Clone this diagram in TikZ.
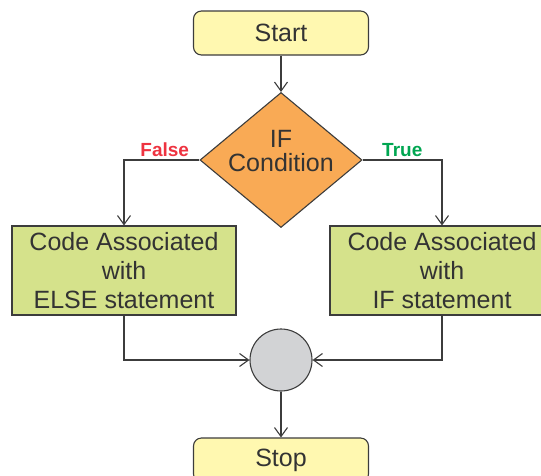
\documentclass[tikz,border=0pt]{standalone}
\usepackage{fontspec}
\setmainfont{Liberation Sans}
\usetikzlibrary{positioning,shapes.geometric,arrows.meta}

\definecolor{linegray}{HTML}{3C3C3C}
\definecolor{textgray}{HTML}{333333}
\definecolor{startfill}{HTML}{FFF8B0}
\definecolor{condfill}{HTML}{F9AA55}
\definecolor{codefill}{HTML}{D5E28B}
\definecolor{joinfill}{HTML}{D2D3D5}
\definecolor{falsered}{HTML}{EE3340}
\definecolor{truegreen}{HTML}{00A651}

\tikzset{
  startstop/.style={rectangle, rounded corners=8pt, draw=linegray, fill=startfill,
    minimum width=175pt, minimum height=44pt, text=textgray,
    font=\fontsize{25}{29}\selectfont},
  decision/.style={diamond, draw=linegray, fill=condfill, inner sep=0pt,
    minimum width=162pt, minimum height=135pt},
  codebox/.style={rectangle, draw=linegray, fill=codefill, align=center,
    minimum width=224pt, minimum height=89pt, text=textgray,
    font=\fontsize{25}{29}\selectfont},
  junction/.style={circle, draw=linegray, fill=joinfill, inner sep=0pt,
    minimum size=62pt},
  branch/.style={above, inner sep=3pt, font=\bfseries\fontsize{19}{19}\selectfont},
  elbow/.style={to path={-| (\tikztotarget) \tikztonodes}},
  drop/.style={to path={|- (\tikztotarget) \tikztonodes}}
}

\begin{document}
\begin{tikzpicture}[x=1pt, y=-1pt, on grid, line width=1.1pt,
      >={Straight Barb[length=9pt,width=13pt]}
  ]
    \useasboundingbox (0,0) rectangle (541,475);
    \node[startstop] (start) at (281,33) {Start};
    \node[decision] (cond) [below=127pt of start] {};
    \node[text=textgray, align=center, font=\fontsize{25}{24}\selectfont]
      (condtext) at ([yshift=9pt]cond.center) {IF\\Condition};
    \node[codebox] (elsebox) [below left=110.5pt and 157pt of cond]
      {Code Associated\\with\\ELSE statement};
    \node[codebox] (ifbox) [below right=110.5pt and 161pt of cond]
      {Code Associated\\with\\IF statement};
    \node[junction] (join) [below=200pt of cond] {};
    \node[startstop] (stop) [below=100pt of join] {Stop};
    \path[->, every edge/.append style={draw=linegray}]
    (start) edge (cond)
    (cond.west) edge[elbow] node[branch, pos=0.23, text=falsered] {False} (elsebox)
    (cond.east) edge[elbow] node[branch, pos=0.25, text=truegreen] {True} (ifbox)
    (elsebox) edge[drop] (join)
    (ifbox) edge[drop] (join)
    (join) edge (stop)
          ;
  \end{tikzpicture}
\end{document}
